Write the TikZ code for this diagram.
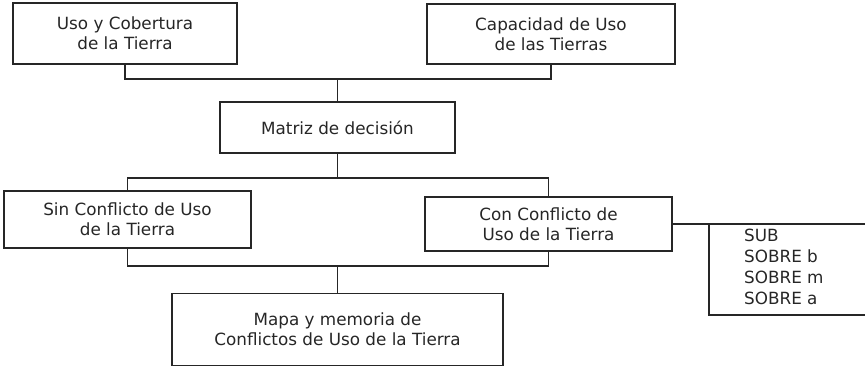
\documentclass[tikz,border=0pt]{standalone}
\usepackage{fontspec}
\setmainfont{DejaVu Sans}
\begin{document}
\begin{tikzpicture}[x=1pt,y=-1pt,
  box/.style={draw=black!85,line width=1.5pt,align=center,inner sep=0pt,
    text=black!85,font=\fontsize{16.8}{20}\selectfont},
  conn/.style={draw=black!85,line width=1.5pt},
  lst/.style={align=left,inner sep=0pt,text=black!85,font=\fontsize{16.8}{21}\selectfont}]
\useasboundingbox (0,0) rectangle (865,367);
\node[box,minimum width=224pt,minimum height=61pt] (u) at (125,33.5) {Uso y Cobertura\\de la Tierra};
\node[box,minimum width=248pt,minimum height=60pt] (c) at (551,34) {Capacidad de Uso\\de las Tierras};
\node[box,minimum width=235pt,minimum height=51pt] (m) at (337.5,127.5) {Matriz de decisión};
\node[box,minimum width=247pt,minimum height=57pt] (s) at (127.5,219.5) {Sin Conflicto de Uso\\de la Tierra};
\node[box,minimum width=247pt,minimum height=54pt] (k) at (548.5,224) {Con Conflicto de\\Uso de la Tierra};
\node[box,minimum width=331pt,minimum height=72pt] (p) at (337.5,329.5) {Mapa y memoria de\\Conflictos de Uso de la Tierra};
\node[lst,anchor=north west] (l) at (744,229) {SUB\\SOBRE b\\SOBRE m\\SOBRE a};
\coordinate (j1) at (337.5,79);
\coordinate (j2) at (337.5,178);
\coordinate (j3) at (337.5,266);
\coordinate (b1) at (709,224);
\coordinate (b2) at (709,315);
\coordinate (e1) at (866,224);
\coordinate (e2) at (866,315);
\draw[conn] (u.south) |- (j1) -| (c.south);
\draw[conn] (j1) -- (m.north);
\draw[conn] (m.south) -- (j2);
\draw[conn] (s.north) |- (j2) -| (k.north);
\draw[conn] (s.south) |- (j3) -| (k.south);
\draw[conn] (j3) -- (p.north);
\draw[conn] (k.east) -- (e1);
\draw[conn] (e1) -- (b1) -- (b2) -- (e2);
\end{tikzpicture}
\end{document}
